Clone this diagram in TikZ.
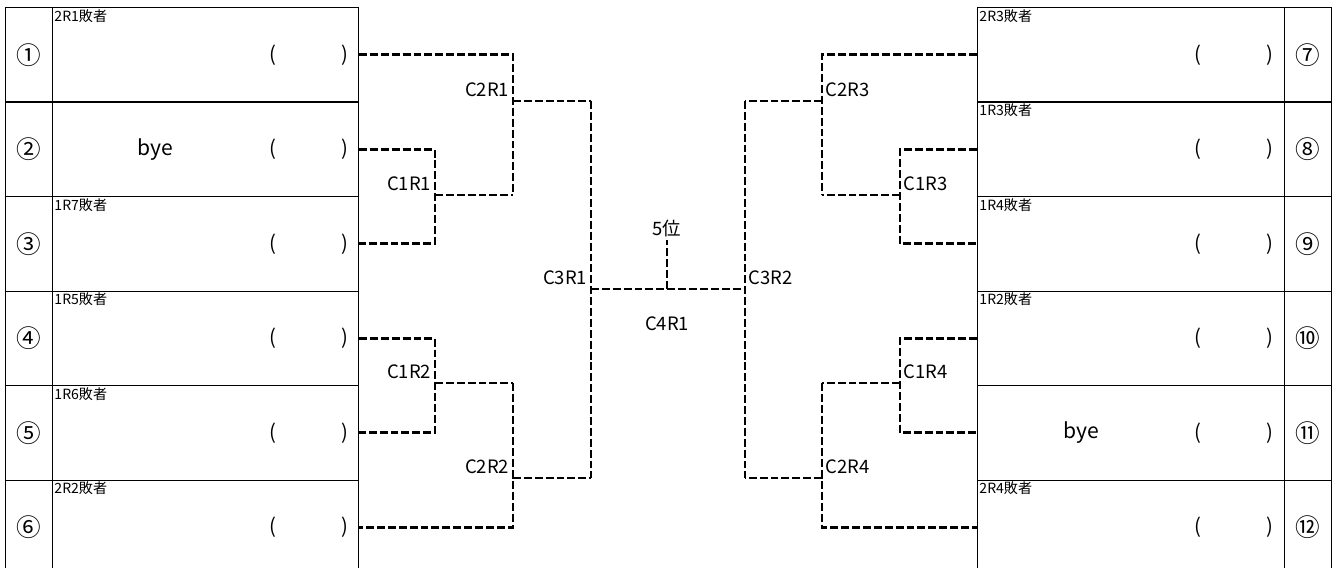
\documentclass[tikz,border=0pt]{standalone}
\usepackage{fontspec}
\setmainfont{Noto Sans CJK JP}

\begin{document}
\begin{tikzpicture}[x=0.2mm, y=-0.2mm,
    celda/.style={draw, line width=0.6pt, inner sep=0pt, anchor=north west, minimum height=18.9mm},
    numero/.style={celda, minimum width=9.4mm, font=\fontsize{14}{16}\selectfont},
    nombre/.style={celda, minimum width=61.2mm},
    perdedor/.style={anchor=north west, inner sep=1.2pt, font=\fontsize{8}{9}\selectfont},
    parentesis/.style={font=\fontsize{11.5}{13}\selectfont},
    partido/.style={inner sep=2pt, font=\fontsize{10.5}{12}\selectfont},
    linea/.style={line width=1.6pt, dash pattern=on 4.5pt off 1.7pt}]

    \useasboundingbox (0,0) rectangle (1336,568);

    % Dibuja las casillas de la izquierda
    \foreach \i/\c in {1/①,2/②,3/③,4/④,5/⑤,6/⑥}{
        \node[numero] (n\i) at (5,{7+94.5*(\i-1)}) {\c};
        \node[nombre] (s\i) at (52,{7+94.5*(\i-1)}) {};
        \node[parentesis] (p\i) at ([xshift=20.7mm]s\i.center) {(\hspace{13mm})};
    }

    % Dibuja las casillas de la derecha
    \foreach \i/\c in {7/⑦,8/⑧,9/⑨,10/⑩,11/⑪,12/⑫}{
        \node[nombre, minimum width=61.4mm] (s\i) at (977,{7+94.5*(\i-7)}) {};
        \node[numero] (n\i) at (1284,{7+94.5*(\i-7)}) {\c};
        \node[parentesis] (p\i) at ([xshift=20.6mm]s\i.center) {(\hspace{13mm})};
    }

    % Textos de las casillas
    \foreach \i/\t in {1/2R1敗者,3/1R7敗者,4/1R5敗者,5/1R6敗者,6/2R2敗者,7/2R3敗者,8/1R3敗者,9/1R4敗者,10/1R2敗者,12/2R4敗者}
        \node[perdedor] (t\i) at (s\i.north west) {\t};
    \node[parentesis, font=\fontsize{12}{14}\selectfont] (b2) at ([xshift=-10mm]s2.center) {bye};
    \node[parentesis, font=\fontsize{12}{14}\selectfont] (b11) at ([xshift=-10mm]s11.center) {bye};

    % Puntos de los partidos
    \coordinate (c1r1) at (435,195);
    \coordinate (c2r1) at (513,101);
    \coordinate (c1r2) at (435,383);
    \coordinate (c2r2) at (513,478);
    \coordinate (c3r1) at (591,289);
    \coordinate (c4r1) at (667,289);
    \coordinate (c3r2) at (745,289);
    \coordinate (c2r3) at (822,101);
    \coordinate (c1r3) at (900,195);
    \coordinate (c1r4) at (900,383);
    \coordinate (c2r4) at (822,478);

    % Dibuja el cuadro de la izquierda
    \draw[linea] (s2.east) -| (c1r1) |- (s3.east);
    \draw[linea] (c1r1) -- (c1r1 -| c2r1);
    \draw[linea] (s1.east) -| (c2r1) -- (c2r1 |- c1r1);
    \draw[linea] (c2r1) -- (c2r1 -| c3r1);
    \draw[linea] (s4.east) -| (c1r2) |- (s5.east);
    \draw[linea] (c1r2) -- (c1r2 -| c2r2);
    \draw[linea] (c2r2 |- c1r2) -- (c2r2) |- (s6.east);
    \draw[linea] (c2r2) -- (c2r2 -| c3r1);
    \draw[linea] (c3r1 |- c2r1) -- (c3r1 |- c2r2);

    % Dibuja el cuadro de la derecha
    \draw[linea] (s8.west) -| (c1r3) |- (s9.west);
    \draw[linea] (c1r3) -- (c1r3 -| c2r3);
    \draw[linea] (s7.west) -| (c2r3) -- (c2r3 |- c1r3);
    \draw[linea] (c2r3) -- (c2r3 -| c3r2);
    \draw[linea] (s10.west) -| (c1r4) |- (s11.west);
    \draw[linea] (c1r4) -- (c1r4 -| c2r4);
    \draw[linea] (c2r4 |- c1r4) -- (c2r4) |- (s12.west);
    \draw[linea] (c2r4) -- (c2r4 -| c3r2);
    \draw[linea] (c3r2 |- c2r3) -- (c3r2 |- c2r4);

    % Final
    \node[partido] (quinto) at (667,228) {5位};
    \draw[linea] (c3r1) -- (c3r2);
    \draw[linea] (c4r1) -- (quinto.south);

    % Nombres de los partidos
    \node[partido, anchor=south east] (l1r1) at (c1r1) {C1R1};
    \node[partido, anchor=south east] (l2r1) at (c2r1) {C2R1};
    \node[partido, anchor=south east] (l1r2) at (c1r2) {C1R2};
    \node[partido, anchor=south east] (l2r2) at (c2r2) {C2R2};
    \node[partido, anchor=south east] (l3r1) at (c3r1) {C3R1};
    \node[partido] (l4r1) at (667,324) {C4R1};
    \node[partido, anchor=south west] (l3r2) at (c3r2) {C3R2};
    \node[partido, anchor=south west] (l2r3) at (c2r3) {C2R3};
    \node[partido, anchor=south west] (l1r3) at (c1r3) {C1R3};
    \node[partido, anchor=south west] (l1r4) at (c1r4) {C1R4};
    \node[partido, anchor=south west] (l2r4) at (c2r4) {C2R4};
\end{tikzpicture}
\end{document}
